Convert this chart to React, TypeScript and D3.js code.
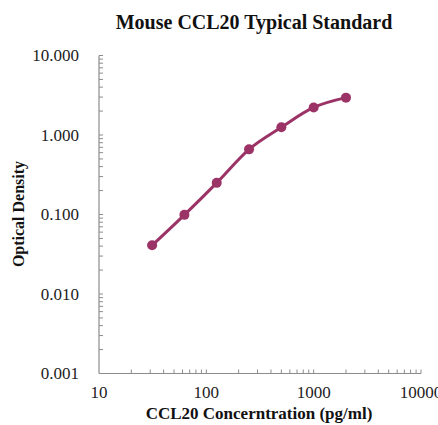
import React from 'react';
import * as d3 from 'd3';

const concentrations = [31.25, 62.5, 125, 250, 500, 1000, 2000];
const opticalDensity = [0.041, 0.099, 0.25, 0.66, 1.25, 2.22, 2.95];
const xTickValues = [10, 100, 1000, 10000];
const yTickValues = [0.001, 0.01, 0.1, 1, 10];

const W = 438;
const H = 425;
const margin = { left: 99, right: 17, top: 55.5, bottom: 51.5 };

const App: React.FC = () => {
  const x = d3.scaleLog().domain([10, 10000]).range([margin.left, W - margin.right]);
  const y = d3.scaleLog().domain([0.001, 10]).range([H - margin.bottom, margin.top]);

  const line = d3.line<number>()
    .x((_, i) => x(concentrations[i]))
    .y(d => y(d))
    .curve(d3.curveMonotoneX);

  // minor ticks for each decade
  const xMinor: number[] = [];
  for (let d = 10; d < 10000; d *= 10) for (let k = 2; k <= 10; k++) xMinor.push(d * k);
  const yMinor: number[] = [];
  for (let d = 0.001; d < 10; d *= 10) for (let k = 2; k <= 10; k++) yMinor.push(d * k);

  const axisColor = '#8c8c8c';
  const mark = '#9b3366';
  const x0 = x(10);
  const y0 = y(0.001);

  return (
    <svg width={W} height={H} style={{ position: 'absolute', left: 0, top: 0, background: '#fff' }}
      fontFamily="'Liberation Serif', 'Times New Roman', serif">
      <text x={254} y={29} textAnchor="middle" fontSize={20} fontWeight="bold" fill="#111">
        Mouse CCL20 Typical Standard
      </text>

      {/* axes */}
      <line x1={x0} y1={y(10)} x2={x0} y2={y0} stroke={axisColor} strokeWidth={1.2} />
      <line x1={x0} y1={y0} x2={x(10000)} y2={y0} stroke={axisColor} strokeWidth={1.2} />
      {yMinor.map((v, i) => (
        <line key={'ym' + i} x1={x0} x2={x0 + 4} y1={y(v)} y2={y(v)} stroke={axisColor} strokeWidth={1} />
      ))}
      {xMinor.map((v, i) => (
        <line key={'xm' + i} x1={x(v)} x2={x(v)} y1={y0} y2={y0 - 4} stroke={axisColor} strokeWidth={1} />
      ))}

      {yTickValues.map(v => (
        <text key={'yl' + v} x={79} y={y(v) + 5.5} textAnchor="end" fontSize={17} fill="#222">
          {d3.format('.3f')(v)}
        </text>
      ))}
      {xTickValues.map(v => (
        <text key={'xl' + v} x={x(v)} y={398} textAnchor="middle" fontSize={17} fill="#222">
          {v}
        </text>
      ))}

      <text x={259} y={419} textAnchor="middle" fontSize={17} fontWeight="bold" fill="#111">
        CCL20 Concerntration (pg/ml)
      </text>
      <text transform={`translate(24,214) rotate(-90)`} textAnchor="middle" fontSize={16} fontWeight="bold" fill="#111">
        Optical Density
      </text>

      <path d={line(opticalDensity) || ''} fill="none" stroke={mark} strokeWidth={3} />
      {opticalDensity.map((v, i) => (
        <circle key={'pt' + i} cx={x(concentrations[i])} cy={y(v)} r={5} fill={mark} />
      ))}
    </svg>
  );
};

export default App;
